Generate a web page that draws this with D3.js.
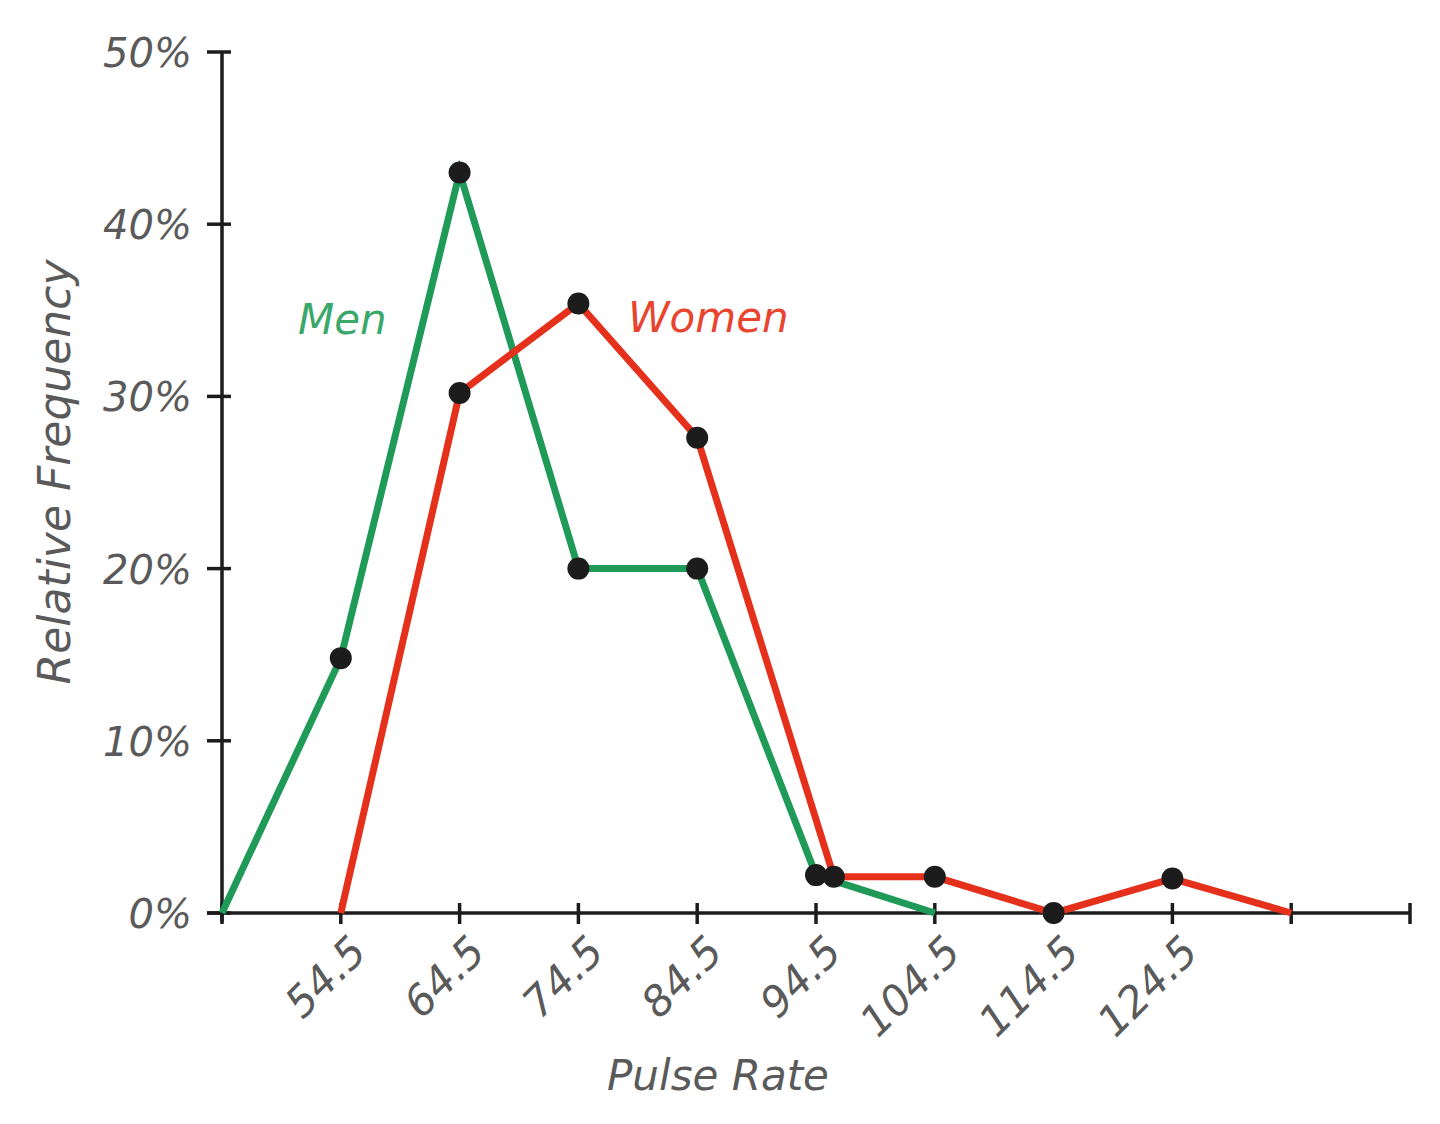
<html>
  <head>
    <title>pulse</title>
    <script src="https://d3js.org/d3.v7.min.js"></script>
    <style>
      body { margin: 0; background: #fff; }
      text { font-family: "DejaVu Sans", sans-serif; font-weight: 200; font-style: oblique; }
    </style>
  </head>
  <body>
    <div id='wrapper'>
      <script>
        // values
        var menX = [44.5, 54.5, 64.5, 74.5, 84.5, 94.5, 104.5];
        var menY = [0, 14.8, 43, 20, 20, 2.2, 0];
        var womenX = [54.5, 64.5, 74.5, 84.5, 96, 104.5, 114.5, 124.5, 134.5];
        var womenY = [0, 30.2, 35.4, 27.6, 2.1, 2.1, 0, 2, 0];
        var xTicks = [44.5, 54.5, 64.5, 74.5, 84.5, 94.5, 104.5, 114.5, 124.5, 134.5, 144.5];
        var xLabels = ["54.5", "64.5", "74.5", "84.5", "94.5", "104.5", "114.5", "124.5"];
        var yTicks = [0, 10, 20, 30, 40, 50];

        var svg = d3.select("#wrapper").append("svg")
          .attr("width", 1440).attr("height", 1124);

        var xScale = d3.scaleLinear().domain([44.5, 144.5]).range([222, 1410]);
        var yScale = d3.scaleLinear().domain([0, 50]).range([913, 52]);

        var ink = "#1c1c1c";
        var grey = "#5a5a5a";

        // axes
        svg.append("line").attr("x1", 207).attr("x2", xScale(144.5))
           .attr("y1", yScale(0)).attr("y2", yScale(0))
           .attr("stroke", ink).attr("stroke-width", 3.5);
        svg.append("line").attr("x1", xScale(44.5)).attr("x2", xScale(44.5))
           .attr("y1", yScale(50)).attr("y2", yScale(0) + 9)
           .attr("stroke", ink).attr("stroke-width", 3.5);

        svg.selectAll(".xt").data(xTicks).enter().append("line")
           .attr("x1", function(d) { return xScale(d); })
           .attr("x2", function(d) { return xScale(d); })
           .attr("y1", yScale(0) - 10).attr("y2", yScale(0) + 11)
           .attr("stroke", ink).attr("stroke-width", 3.5);
        svg.selectAll(".yt").data(yTicks).enter().append("line")
           .attr("x1", 207).attr("x2", 231)
           .attr("y1", function(d) { return yScale(d); })
           .attr("y2", function(d) { return yScale(d); })
           .attr("stroke", ink).attr("stroke-width", 3.5);

        svg.selectAll(".yl").data(yTicks).enter().append("text")
           .attr("x", 192)
           .attr("y", function(d) { return yScale(d) + 15; })
           .attr("text-anchor", "end")
           .attr("font-size", 40)
           .attr("fill", grey)
           .text(function(d) { return d + "%"; });

        svg.selectAll(".xl").data(xLabels).enter().append("text")
           .attr("transform", function(d) {
             return "translate(" + (xScale(+d) + 28) + "," + 954 + ") rotate(-45)";
           })
           .attr("text-anchor", "end")
           .attr("font-size", 42)
           .attr("fill", grey)
           .text(function(d) { return d; });

        svg.append("text").attr("x", 718).attr("y", 1090)
           .attr("text-anchor", "middle").attr("font-size", 42).attr("fill", grey)
           .text("Pulse Rate");
        svg.append("text")
           .attr("transform", "translate(70,472) rotate(-90)")
           .attr("text-anchor", "middle").attr("font-size", 44).attr("fill", grey)
           .text("Relative Frequency");

        // series
        var line = d3.line()
          .x(function(d) { return xScale(d[0]); })
          .y(function(d) { return yScale(d[1]); });

        var men = d3.zip(menX, menY);
        var women = d3.zip(womenX, womenY);

        svg.append("path").datum(men).attr("d", line)
           .attr("fill", "none").attr("stroke", "#1f9a58").attr("stroke-width", 7);
        svg.append("path").datum(women).attr("d", line)
           .attr("fill", "none").attr("stroke", "#e5301c").attr("stroke-width", 7);

        // dots on interior points only
        var dots = men.slice(1, -1).concat(women.slice(1, -1));
        svg.selectAll(".dot").data(dots).enter().append("circle")
           .attr("cx", function(d) { return xScale(d[0]); })
           .attr("cy", function(d) { return yScale(d[1]); })
           .attr("r", 11).attr("fill", ink);

        svg.append("text").attr("x", 298).attr("y", 334)
           .attr("font-size", 42).attr("fill", "#3aa86a").text("Men");
        svg.append("text").attr("x", 628).attr("y", 332)
           .attr("font-size", 42).attr("fill", "#e8442e").text("Women");
      </script>
    </div>
  </body>
</html>
